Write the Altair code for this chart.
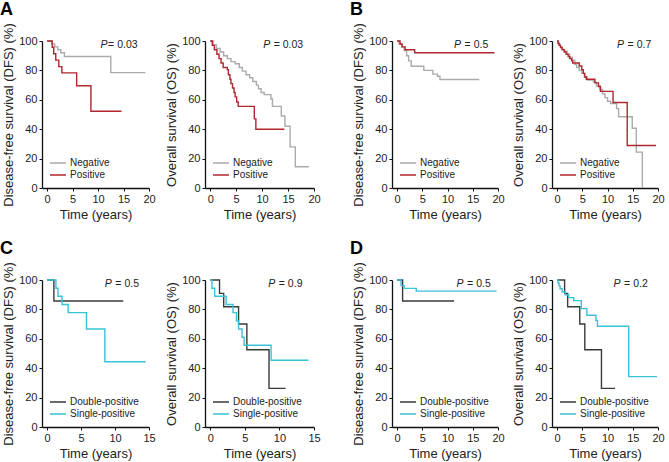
import altair as alt
import pandas as pd

FONT = "Liberation Sans"
TEXT = "#222222"

NEG_POS = ["Negative", "Positive"]
DBL_SGL = ["Double-positive", "Single-positive"]
NEG_POS_COLORS = ["#ababab", "#b0262c"]
DBL_SGL_COLORS = ["#3a3a3a", "#3ac2d7"]

DFS_TITLE = "Disease-free survival (DFS) (%)"
OS_TITLE = "Overall survival (OS) (%)"
Y_TICKS = [0, 20, 40, 60, 80, 100]
P_Y = 97.5

# ---- A: disease-free survival ----
a_dfs_neg_t = [0, 0.9, 1.5, 2.1, 2.7, 3.4, 12.5, 19.3]
a_dfs_neg_s = [100, 98.0, 96.0, 94.0, 92.0, 89.5, 78.5, 78.5]
a_dfs_pos_t = [0, 1.0, 1.3, 1.7, 2.3, 2.9, 5.8, 8.6, 14.6]
a_dfs_pos_s = [100, 95.7, 91.3, 87.0, 82.6, 78.3, 69.6, 52.2, 52.2]

# ---- A: overall survival ----
a_os_neg_t = [0, 0.6, 1.2, 1.9, 2.6, 3.3, 4.0, 4.8, 5.6, 6.2, 6.9, 7.6, 8.2, 8.9,
              9.3, 9.8, 10.4, 11.7, 12.0, 13.7, 14.4, 15.4, 16.4, 19.0]
a_os_neg_s = [100, 97.5, 95.0, 92.5, 90.0, 88.0, 86.0, 84.5, 82.0, 79.5, 77.0, 75.0,
              72.5, 70.0, 67.5, 65.0, 63.5, 60.5, 55.5, 49.0, 42.0, 28.0, 14.5, 14.5]
a_os_pos_t = [0, 0.4, 0.8, 1.3, 1.7, 2.1, 2.5, 3.3, 3.5, 3.8, 4.0, 4.3, 4.6, 4.8,
              5.1, 5.4, 8.5, 8.8, 14.3]
a_os_pos_s = [100, 97.0, 94.0, 91.0, 88.0, 85.0, 82.0, 80.5, 77.0, 74.0, 71.0, 68.0,
              65.0, 62.0, 58.5, 55.5, 47.0, 40.0, 40.0]

# ---- B: disease-free survival ----
b_dfs_neg_t = [0, 0.4, 0.9, 1.4, 1.9, 2.3, 2.8, 5.3, 7.1, 8.0, 8.5, 16.3]
b_dfs_neg_s = [100, 98.0, 96.0, 93.5, 90.0, 86.5, 82.8, 80.0, 77.5, 76.0, 73.8, 73.8]
b_dfs_pos_t = [0, 0.6, 1.0, 1.6, 3.5, 19.3]
b_dfs_pos_s = [100, 98.0, 96.0, 94.0, 92.0, 92.0]

# ---- B: overall survival ----
b_os_neg_t = [0, 0.3, 0.6, 1.0, 1.5, 2.0, 2.5, 3.0, 3.5, 3.9, 4.4, 4.9, 5.4, 6.0,
              7.2, 7.8, 8.5, 9.0, 9.5, 10.0, 10.6, 11.8, 12.2, 14.9, 15.7, 16.9]
b_os_neg_s = [100, 98.0, 96.0, 94.5, 93.0, 91.0, 89.0, 87.0, 84.0, 82.0, 80.0, 78.0,
              75.5, 73.5, 72.0, 69.5, 67.0, 64.0, 61.5, 59.0, 57.5, 54.0, 48.5, 40.6,
              24.4, 0.0]
b_os_pos_t = [0, 0.2, 0.4, 0.7, 1.0, 1.4, 1.8, 2.2, 2.5, 2.9, 3.1, 4.4, 4.9, 5.2,
              5.5, 5.8, 7.5, 8.2, 8.6, 11.1, 13.9, 19.6]
b_os_pos_s = [100, 98.5, 97.0, 95.5, 94.0, 92.5, 91.0, 89.5, 88.0, 86.5, 85.0, 83.0,
              80.5, 78.0, 75.5, 74.0, 71.5, 69.0, 65.7, 58.2, 28.9, 28.9]

# ---- C: disease-free survival ----
c_dfs_dbl_t = [0, 1.0, 11.2]
c_dfs_dbl_s = [100, 85.7, 85.7]
c_dfs_sgl_t = [0, 1.3, 1.6, 2.2, 3.1, 5.8, 8.5, 14.5]
c_dfs_sgl_s = [100, 94.4, 88.9, 83.3, 77.8, 66.7, 44.4, 44.4]

# ---- C: overall survival ----
c_os_dbl_t = [0, 1.35, 1.95, 4.1, 5.3, 8.5, 10.9]
c_os_dbl_s = [100, 90.9, 81.8, 70.1, 52.6, 26.3, 26.3]
c_os_sgl_t = [0, 0.25, 0.65, 2.3, 3.3, 3.8, 4.1, 4.6, 4.9, 8.8, 14.2]
c_os_sgl_s = [100, 94.4, 88.9, 83.3, 77.8, 72.2, 66.7, 61.1, 55.6, 45.4, 45.4]

# ---- D: disease-free survival ----
d_dfs_dbl_t = [0, 1.1, 11.3]
d_dfs_dbl_s = [100, 85.7, 85.7]
d_dfs_sgl_t = [0, 0.8, 1.4, 3.8, 19.7]
d_dfs_sgl_s = [100, 96.2, 94.3, 92.4, 92.4]

# ---- D: overall survival ----
d_os_dbl_t = [0, 1.5, 2.1, 4.5, 5.5, 8.8, 11.5]
d_os_dbl_s = [100, 90.9, 81.8, 70.1, 52.6, 26.3, 26.3]
d_os_sgl_t = [0, 0.2, 0.4, 0.6, 1.0, 1.6, 2.3, 3.3, 4.8, 5.9, 7.7, 8.0, 14.2, 19.8]
d_os_sgl_s = [100, 98.0, 96.0, 94.0, 92.0, 90.0, 88.0, 86.0, 80.5, 76.0, 72.5, 68.5,
              34.3, 34.3]

# log-rank P values shown in each panel
p_values = {
    "a_dfs": "= 0.03", "a_os": "= 0.03",
    "b_dfs": "= 0.5", "b_os": "= 0.7",
    "c_dfs": "= 0.5", "c_os": "= 0.9",
    "d_dfs": "= 0.5", "d_os": "= 0.2",
}


def curve_frame(groups, series):
    rows = []
    for g, (t, s) in zip(groups, series):
        rows += [{"time": ti, "surv": si, "group": g} for ti, si in zip(t, s)]
    return pd.DataFrame(rows)


def km_panel(groups, colors, series, xmax, ytitle, p_key, p_x, p_gap, width, label=None):
    df = curve_frame(groups, series)
    x_scale = alt.Scale(domain=[-0.05 * xmax, xmax], nice=False, zero=False)
    y_scale = alt.Scale(domain=[0, 100], nice=False)
    x_enc = alt.X("time:Q", scale=x_scale,
                  axis=alt.Axis(values=list(range(0, xmax + 1, 5)), title="Time (years)",
                                labelOverlap=False, labelFlush=False, labelBound=False))
    y_enc = alt.Y("surv:Q", scale=y_scale,
                  axis=alt.Axis(values=Y_TICKS, title=ytitle,
                                labelOverlap=False, labelFlush=False, labelBound=False))

    lines = alt.Chart(df).mark_line(interpolate="step-after", strokeWidth=1.4).encode(
        x=x_enc,
        y=y_enc,
        color=alt.Color(
            "group:N",
            scale=alt.Scale(domain=groups, range=colors),
            legend=alt.Legend(
                title=None, orient="bottom-left", offset=7, padding=0,
                symbolType="stroke", symbolSize=256, symbolStrokeWidth=1.5,
                clipHeight=12, rowPadding=0, labelOffset=3,
                labelFontSize=10, labelFont=FONT, labelColor=TEXT,
            ),
        ),
    )

    p_df = pd.DataFrame({"time": [p_x], "surv": [P_Y]})
    p_italic = alt.Chart(p_df).mark_text(
        text="P", fontStyle="italic", align="left", baseline="middle",
        fontSize=10.5, font=FONT, color=TEXT,
    ).encode(x=x_enc, y=y_enc)
    p_value = alt.Chart(p_df).mark_text(
        text=p_values[p_key], align="left", baseline="middle", dx=p_gap,
        fontSize=10.5, font=FONT, color=TEXT,
    ).encode(x=x_enc, y=y_enc)

    panel = alt.layer(lines, p_italic, p_value).properties(width=width, height=147)
    if label:
        panel = panel.properties(title=alt.TitleParams(
            label, anchor="start", frame="group", fontSize=18, fontWeight="bold",
            font=FONT, color="#000000", dx=-42, offset=4,
        ))
    return panel


a_dfs = km_panel(NEG_POS, NEG_POS_COLORS,
                 [(a_dfs_neg_t, a_dfs_neg_s), (a_dfs_pos_t, a_dfs_pos_s)],
                 20, DFS_TITLE, "a_dfs", 10.5, 7.5, 107, "A")
a_os = km_panel(NEG_POS, NEG_POS_COLORS,
                [(a_os_neg_t, a_os_neg_s), (a_os_pos_t, a_os_pos_s)],
                20, OS_TITLE, "a_os", 10.2, 10.5, 109)
b_dfs = km_panel(NEG_POS, NEG_POS_COLORS,
                 [(b_dfs_neg_t, b_dfs_neg_s), (b_dfs_pos_t, b_dfs_pos_s)],
                 20, DFS_TITLE, "b_dfs", 11.3, 10.5, 106, "B")
b_os = km_panel(NEG_POS, NEG_POS_COLORS,
                [(b_os_neg_t, b_os_neg_s), (b_os_pos_t, b_os_pos_s)],
                20, OS_TITLE, "b_os", 11.9, 10.5, 106)
c_dfs = km_panel(DBL_SGL, DBL_SGL_COLORS,
                 [(c_dfs_dbl_t, c_dfs_dbl_s), (c_dfs_sgl_t, c_dfs_sgl_s)],
                 15, DFS_TITLE, "c_dfs", 8.5, 10.5, 107, "C")
c_os = km_panel(DBL_SGL, DBL_SGL_COLORS,
                [(c_os_dbl_t, c_os_dbl_s), (c_os_sgl_t, c_os_sgl_s)],
                15, OS_TITLE, "c_os", 8.4, 10.5, 109)
d_dfs = km_panel(DBL_SGL, DBL_SGL_COLORS,
                 [(d_dfs_dbl_t, d_dfs_dbl_s), (d_dfs_sgl_t, d_dfs_sgl_s)],
                 20, DFS_TITLE, "d_dfs", 11.8, 10.5, 106, "D")
d_os = km_panel(DBL_SGL, DBL_SGL_COLORS,
                [(d_os_dbl_t, d_os_dbl_s), (d_os_sgl_t, d_os_sgl_s)],
                20, OS_TITLE, "d_os", 11.2, 10.5, 106)


def half(panels, col_gap):
    return alt.concat(
        *panels, columns=2, bounds="flush",
        spacing={"row": 92, "column": col_gap},
    ).resolve_scale(x="independent", y="independent", color="independent")


left = half([a_dfs, a_os, c_dfs, c_os], 56)
right = half([b_dfs, b_os, d_dfs, d_os], 54)

chart = (
    alt.hconcat(left, right, spacing=29)
    .resolve_scale(x="independent", y="independent", color="independent")
    .properties(padding={"left": 0, "top": 0, "right": 2, "bottom": 1}, background="white")
    .configure_view(stroke=None)
    .configure_axis(
        grid=False,
        domainColor="#111111", domainWidth=1.3,
        tickColor="#111111", tickSize=3, tickWidth=1,
        labelFont=FONT, labelFontSize=11, labelColor=TEXT, labelPadding=2,
        titleFont=FONT, titleFontSize=13, titleFontWeight="normal", titleColor=TEXT,
    )
    .configure_axisX(titlePadding=4)
    .configure_axisY(titlePadding=3)
)

chart.save("out.html", embed_options={"renderer": "svg", "actions": False})
